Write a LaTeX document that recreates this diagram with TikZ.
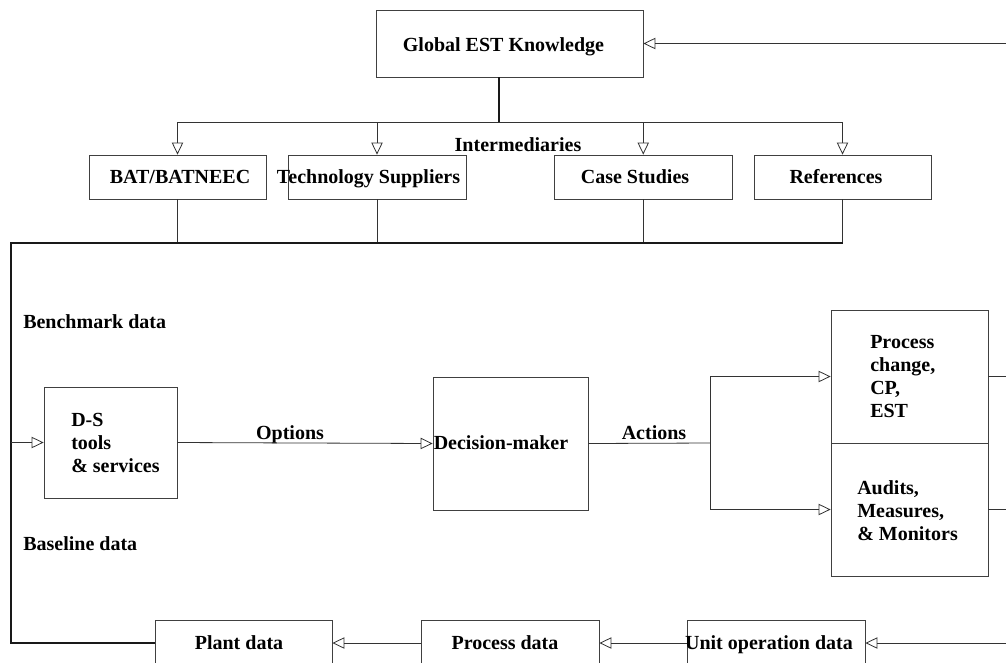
\documentclass[tikz,border=0pt]{standalone}
\usepackage{fontspec}
\setmainfont{Liberation Serif}
\usetikzlibrary{arrows.meta}
\begin{document}
\begin{tikzpicture}[x=0.75pt,y=-0.75pt,
  ln/.style={draw=black!80, line width=0.6pt},
  thk/.style={draw=black!90, line width=0.9pt},
  arr/.style={ln, -{Triangle[open, length=9pt, width=8.5pt]}},
  bx/.style 2 args={draw=black!75, line width=0.6pt, inner sep=0pt,
     minimum width=0.75pt*#1, minimum height=0.75pt*#2},
  txt/.style={inner sep=0pt, font=\bfseries\fontsize{15}{17.25}\selectfont},
  txo/.style={txt, text height=10pt, text depth=3.3pt}]
\useasboundingbox (0,0) rectangle (1006,662);
\clip (0,0) rectangle (1006,662);

% boxes
\node[bx={266.5}{67}] (G) at (509.75,43.5) {};
\node[bx={177}{44}] (BAT) at (177.5,177) {};
\node[bx={178}{44}] (Tech) at (377,177) {};
\node[bx={177.5}{44}] (Case) at (643.25,177) {};
\node[bx={177}{44}] (Refs) at (842.5,177) {};
\node[bx={133}{111}] (DS) at (110.5,442.5) {};
\node[bx={155}{133}] (Dec) at (510.5,443.5) {};
\node[bx={157}{133}] (PC) at (909.5,376.5) {};
\node[bx={157}{133}] (AM) at (909.5,509.5) {};
\node[bx={177}{46}] (Plant) at (243.5,643) {};
\node[bx={177.5}{46}] (Proc) at (510.25,643) {};
\node[bx={178}{46}] (Unit) at (776,643) {};

% texts
\node[txo] (tG) at (503.5,47) {Global EST Knowledge};
\node[txo] (tInt) at (518,147) {Intermediaries};
\node[txo] (tBAT) at (180,179.5) {BAT/BATNEEC};
\node[txo] (tTech) at (368.5,179.5) {Technology Suppliers};
\node[txo] (tCase) at (635,179.5) {Case Studies};
\node[txo] (tRefs) at (836,179.5) {References};
\node[txo, anchor=west] (tBench) at (23,324.5) {Benchmark data};
\node[txo, anchor=west] (tBase) at (23,546) {Baseline data};
\node[txt, anchor=west, align=left] (tDS) at (71,443) {D-S\\tools\\\& services};
\node[txo] (tOpt) at (290,435.5) {Options};
\node[txo] (tAct) at (654,435.5) {Actions};
\node[txo] (tDec) at (501,445.5) {Decision-maker};
\node[txt, anchor=west, align=left] (tPC) at (870,377) {Process\\change,\\CP,\\EST};
\node[txt, anchor=west, align=left] (tAM) at (857,510.5) {Audits,\\Measures,\\\& Monitors};
\node[txo] (tPlant) at (239,645.5) {Plant data};
\node[txo] (tProc) at (505,645.5) {Process data};
\node[txo] (tUnit) at (769,645.5) {Unit operation data};

% coordinates
\coordinate (hub) at (499,122);
\coordinate (col) at (11,243);
\coordinate (bl) at (11,643);
\coordinate (split) at (710,443);
\coordinate (r1) at (1012,43.5);
\coordinate (r2) at (1012,376.5);
\coordinate (r3) at (1012,509.5);
\coordinate (r4) at (1012,643);

% top distribution
\draw[line width=1.4pt, black!90] (G.south -| hub) -- (hub);
\draw[ln] (hub -| BAT.north) -- (hub -| Refs.north);
\draw[arr] (hub -| BAT.north) -- (BAT.north);
\draw[arr] (hub -| Tech.north) -- (Tech.north);
\draw[arr] (hub -| Case.north) -- (Case.north);
\draw[arr] (hub -| Refs.north) -- (Refs.north);
\draw[arr] (r1) -- (G.east);

% collector
\draw[ln] (BAT.south) -- (BAT.south |- col);
\draw[ln] (Tech.south) -- (Tech.south |- col);
\draw[ln] (Case.south) -- (Case.south |- col);
\draw[ln] (Refs.south) -- (Refs.south |- col);
\draw[thk] (Refs.south |- col) -- (col) -- (bl) -- (Plant.west);
\draw[arr] (col |- DS.west) -- (DS.west);

% middle flow
\draw[arr] (DS.east) -- (Dec.west);
\draw[ln] (Dec.east) -- (split);
\draw[arr] (split) |- (PC.west);
\draw[arr] (split) |- (AM.west);
\draw[ln] (PC.east) -- (r2);
\draw[ln] (AM.east) -- (r3);

% bottom flow
\draw[arr] (r4) -- (Unit.east);
\draw[arr] (Unit.west) -- (Proc.east);
\draw[arr] (Proc.west) -- (Plant.east);
\end{tikzpicture}
\end{document}
